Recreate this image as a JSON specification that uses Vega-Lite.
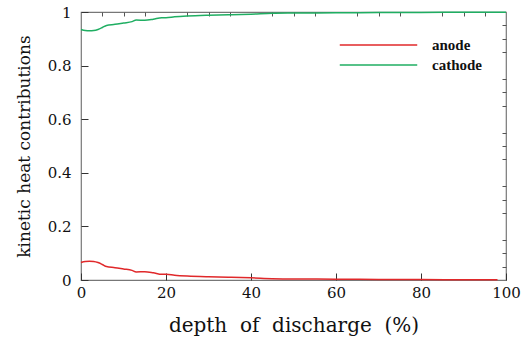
{
  "$schema": "https://vega.github.io/schema/vega-lite/v6.json",
  "autosize": "none",
  "width": 425,
  "height": 268,
  "padding": {"left": 81, "top": 12, "right": 15, "bottom": 65},
  "background": "white",
  "config": {
    "view": {"stroke": "#777777", "strokeWidth": 1.2}
  },
  "data": {
    "values": [
      {"x": 0, "v": 0.065, "s": "anode"},
      {"x": 1, "v": 0.069, "s": "anode"},
      {"x": 2, "v": 0.070, "s": "anode"},
      {"x": 3, "v": 0.069, "s": "anode"},
      {"x": 4, "v": 0.065, "s": "anode"},
      {"x": 5, "v": 0.058, "s": "anode"},
      {"x": 6, "v": 0.050, "s": "anode"},
      {"x": 8, "v": 0.046, "s": "anode"},
      {"x": 10, "v": 0.041, "s": "anode"},
      {"x": 12, "v": 0.036, "s": "anode"},
      {"x": 13, "v": 0.030, "s": "anode"},
      {"x": 15, "v": 0.031, "s": "anode"},
      {"x": 17, "v": 0.027, "s": "anode"},
      {"x": 19, "v": 0.021, "s": "anode"},
      {"x": 20, "v": 0.021, "s": "anode"},
      {"x": 22, "v": 0.018, "s": "anode"},
      {"x": 25, "v": 0.015, "s": "anode"},
      {"x": 30, "v": 0.012, "s": "anode"},
      {"x": 35, "v": 0.010, "s": "anode"},
      {"x": 40, "v": 0.008, "s": "anode"},
      {"x": 45, "v": 0.005, "s": "anode"},
      {"x": 50, "v": 0.004, "s": "anode"},
      {"x": 60, "v": 0.003, "s": "anode"},
      {"x": 70, "v": 0.002, "s": "anode"},
      {"x": 80, "v": 0.0015, "s": "anode"},
      {"x": 90, "v": 0.001, "s": "anode"},
      {"x": 98, "v": 0.001, "s": "anode"},
      {"x": 0, "v": 0.935, "s": "cathode"},
      {"x": 1, "v": 0.931, "s": "cathode"},
      {"x": 2, "v": 0.930, "s": "cathode"},
      {"x": 3, "v": 0.931, "s": "cathode"},
      {"x": 4, "v": 0.935, "s": "cathode"},
      {"x": 5, "v": 0.942, "s": "cathode"},
      {"x": 6, "v": 0.950, "s": "cathode"},
      {"x": 8, "v": 0.954, "s": "cathode"},
      {"x": 10, "v": 0.959, "s": "cathode"},
      {"x": 12, "v": 0.964, "s": "cathode"},
      {"x": 13, "v": 0.970, "s": "cathode"},
      {"x": 15, "v": 0.969, "s": "cathode"},
      {"x": 17, "v": 0.973, "s": "cathode"},
      {"x": 19, "v": 0.979, "s": "cathode"},
      {"x": 20, "v": 0.979, "s": "cathode"},
      {"x": 22, "v": 0.982, "s": "cathode"},
      {"x": 25, "v": 0.985, "s": "cathode"},
      {"x": 30, "v": 0.988, "s": "cathode"},
      {"x": 35, "v": 0.990, "s": "cathode"},
      {"x": 40, "v": 0.992, "s": "cathode"},
      {"x": 45, "v": 0.995, "s": "cathode"},
      {"x": 50, "v": 0.996, "s": "cathode"},
      {"x": 60, "v": 0.997, "s": "cathode"},
      {"x": 70, "v": 0.998, "s": "cathode"},
      {"x": 80, "v": 0.9985, "s": "cathode"},
      {"x": 90, "v": 0.999, "s": "cathode"},
      {"x": 100, "v": 0.999, "s": "cathode"}
    ]
  },
  "layer": [
    {
      "mark": {"type": "line", "strokeWidth": 1.5, "interpolate": "monotone"},
      "encoding": {
        "x": {
          "field": "x", "type": "quantitative",
          "scale": {"domain": [0, 100], "nice": false},
          "axis": {
            "values": [0, 20, 40, 60, 80, 100],
            "title": "depth\u00a0 of\u00a0 discharge\u00a0 (%)",
            "titleFont": "DejaVu Serif",
            "titleFontSize": 20, "titleFontWeight": "normal", "titleColor": "#111",
            "titlePadding": 15,
            "labelFont": "DejaVu Serif",
            "labelFontSize": 15, "labelColor": "#111", "labelPadding": 12,
            "tickSize": -7, "tickColor": "#333", "domain": false, "grid": false,
            "labelFlush": false
          }
        },
        "y": {
          "field": "v", "type": "quantitative",
          "scale": {"domain": [0, 1], "nice": false},
          "axis": {
            "values": [0, 0.2, 0.4, 0.6, 0.8, 1],
            "format": "~g",
            "title": "kinetic heat contributions",
            "titleFont": "DejaVu Serif",
            "titleFontSize": 17, "titleFontWeight": "normal", "titleColor": "#111",
            "titlePadding": 14,
            "labelFont": "DejaVu Serif",
            "labelFontSize": 15, "labelColor": "#111", "labelPadding": 17,
            "tickSize": -7, "tickColor": "#333", "domain": false, "grid": false,
            "labelFlush": false
          }
        },
        "color": {
          "field": "s", "type": "nominal",
          "scale": {"domain": ["anode", "cathode"], "range": ["#e0282a", "#1fae62"]},
          "legend": {
            "title": null,
            "orient": "none", "legendX": 258, "legendY": 23,
            "symbolType": "stroke", "symbolSize": 6000, "symbolStrokeWidth": 1.5,
            "clipHeight": 20,
            "labelFont": "Liberation Serif", "labelFontWeight": "bold", "labelFontSize": 15,
            "labelColor": "#111", "rowPadding": 0, "labelOffset": 14
          }
        }
      }
    },
    {
      "mark": {"type": "rule", "opacity": 0},
      "data": {"values": [{"x": 0, "v": 0}]},
      "encoding": {
        "x": {
          "field": "x", "type": "quantitative",
          "axis": {
            "values": [5, 10, 15, 25, 30, 35, 45, 50, 55, 65, 70, 75, 85, 90, 95],
            "labels": false, "title": null, "tickSize": -4, "tickColor": "#555",
            "domain": false, "grid": false
          }
        },
        "y": {
          "field": "v", "type": "quantitative",
          "axis": {
            "values": [0.05, 0.1, 0.15, 0.25, 0.3, 0.35, 0.45, 0.5, 0.55, 0.65, 0.7, 0.75, 0.85, 0.9, 0.95],
            "labels": false, "title": null, "tickSize": -4, "tickColor": "#555",
            "domain": false, "grid": false
          }
        }
      }
    }
  ],
  "resolve": {"axis": {"x": "independent", "y": "independent"}}
}
